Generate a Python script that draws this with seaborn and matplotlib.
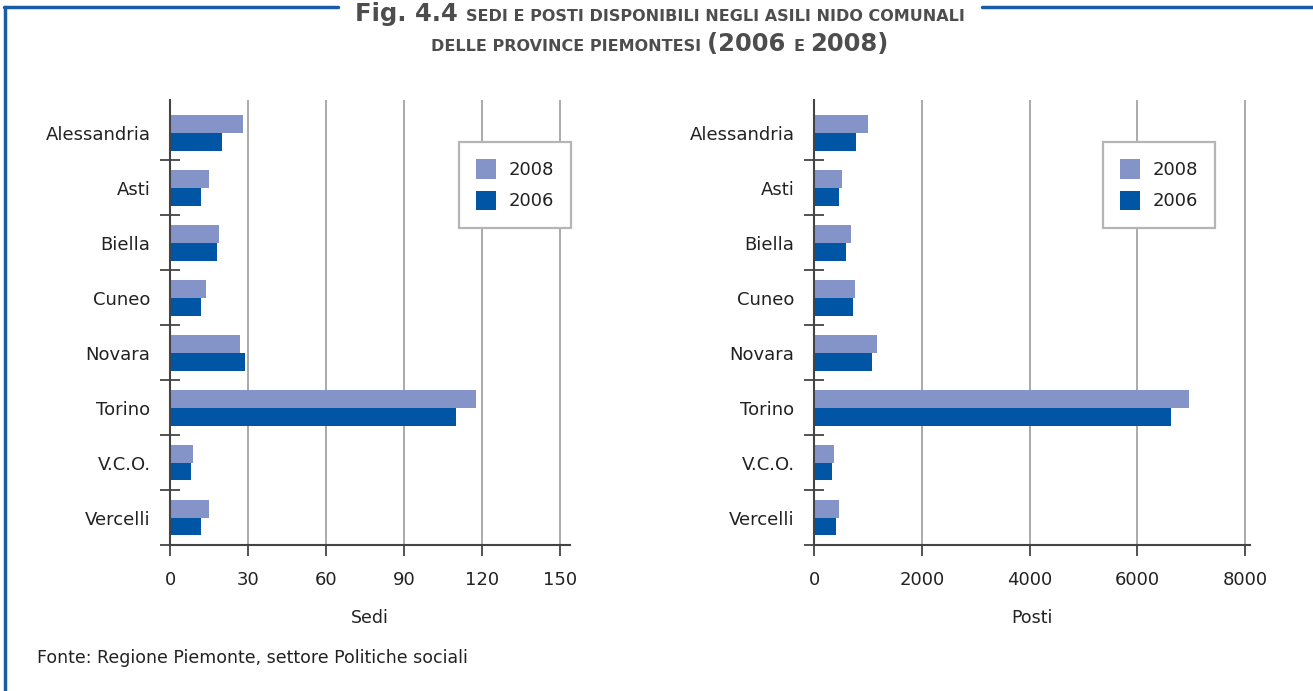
import pandas as pd
import seaborn as sns
import matplotlib.pyplot as plt
from matplotlib.lines import Line2D
from matplotlib.ticker import FixedLocator

# dati
province = ['Alessandria', 'Asti', 'Biella', 'Cuneo', 'Novara', 'Torino', 'V.C.O.', 'Vercelli']
anni = ['2008', '2006']
sedi_2008 = [28, 15, 19, 14, 27, 118, 9, 15]
sedi_2006 = [20, 12, 18, 12, 29, 110, 8, 12]
posti_2008 = [1005, 525, 690, 765, 1175, 6965, 375, 470]
posti_2006 = [785, 470, 600, 730, 1080, 6630, 340, 415]
sedi_ticks = [0, 30, 60, 90, 120, 150]
posti_ticks = [0, 2000, 4000, 6000, 8000]

colori = {'2008': '#8494c8', '2006': '#0055a4'}

df = pd.DataFrame({
    'provincia': province * 2,
    'anno': ['2008'] * len(province) + ['2006'] * len(province),
    'Sedi': sedi_2008 + sedi_2006,
    'Posti': posti_2008 + posti_2006,
})

sns.set_style('white')
plt.rcParams['font.family'] = ['DejaVu Sans']
testo = '#222222'

W, H = 1313, 691
fig = plt.figure(figsize=(W / 100, H / 100), dpi=100)

ax1 = fig.add_axes([170 / W, 1 - 545 / H, 400 / W, 445 / H])
ax2 = fig.add_axes([814 / W, 1 - 545 / H, 436 / W, 445 / H])


def pannello(ax, col, ticks, xmax, leg_x):
    sns.barplot(data=df, y='provincia', x=col, hue='anno', hue_order=anni,
                palette=colori, orient='h', width=0.65, saturation=1,
                linewidth=0, ax=ax)
    ax.set_xlim(0, xmax)
    ax.set_ylim(len(province) - 0.5, -0.6)
    ax.set_xticks(ticks)
    ax.set_xticklabels([str(t) for t in ticks])
    ax.yaxis.set_minor_locator(FixedLocator([i + 0.5 for i in range(len(province))]))
    ax.grid(axis='x', color='#aaaaaa', linewidth=1.4)
    ax.set_axisbelow(True)
    for s in ['top', 'right']:
        ax.spines[s].set_visible(False)
    for s in ['left', 'bottom']:
        ax.spines[s].set_color('#444444')
        ax.spines[s].set_linewidth(1.5)
    ax.tick_params(axis='y', which='major', length=0, pad=14,
                   labelsize=13, labelcolor=testo)
    ax.tick_params(axis='y', which='minor', left=True, direction='inout',
                   length=15, width=1.3, color='#444444')
    ax.tick_params(axis='x', bottom=True, direction='out', length=8,
                   width=1.3, color='#444444', pad=11,
                   labelsize=13, labelcolor=testo)
    ax.set_ylabel('')
    ax.set_xlabel(col, fontsize=12.5, color=testo, labelpad=14)
    sns.move_legend(ax, 'upper left', bbox_to_anchor=(leg_x, 0.906),
                    title=None, frameon=True, fancybox=False, fontsize=13,
                    handlelength=1.1, handleheight=1.3, handletextpad=0.7,
                    labelspacing=0.65, borderpad=0.95, borderaxespad=0,
                    edgecolor='#b5b5b5', framealpha=1, labelcolor=testo)
    ax.get_legend().get_frame().set_linewidth(1.6)


pannello(ax1, 'Sedi', sedi_ticks, 154, 0.7225)
pannello(ax2, 'Posti', posti_ticks, 8090, 0.663)

# titolo su due righe con maiuscoletto
grigio = '#4d4d4d'
righe = [
    (21, [('Fig. 4.4 ', 17.5), ('SEDI E POSTI DISPONIBILI NEGLI ASILI NIDO COMUNALI', 11.5)]),
    (51, [('DELLE PROVINCE PIEMONTESI ', 11.5), ('(2006 ', 17.5), ('E ', 11.5), ('2008)', 17.5)]),
]
renderer = fig.canvas.get_renderer()
estremi = []
for y_px, pezzi in righe:
    oggetti = []
    for s, size in pezzi:
        t = fig.text(0, 1 - y_px / H, s, fontsize=size, fontweight='bold',
                     color=grigio, va='baseline', ha='left')
        oggetti.append(t)
    larghezze = [t.get_window_extent(renderer).width for t in oggetti]
    x = 660 - sum(larghezze) / 2
    estremi.append((x, x + sum(larghezze)))
    for t, w in zip(oggetti, larghezze):
        t.set_x(x / W)
        x += w

# cornice blu
blu = '#1a5ca8'
x0, x1 = estremi[0]
y_top = 1 - 7 / H
fig.add_artist(Line2D([4 / W, (x0 - 17) / W], [y_top, y_top], color=blu, lw=2.5))
fig.add_artist(Line2D([(x1 + 17) / W, 1], [y_top, y_top], color=blu, lw=2.5))
fig.add_artist(Line2D([5 / W, 5 / W], [0, y_top], color=blu, lw=2.5))

fig.text(37 / W, 1 - 658 / H, 'Fonte: Regione Piemonte, settore Politiche sociali',
         fontsize=12.5, color=testo, va='center', ha='left')

fig.savefig('out.png', dpi=100)
